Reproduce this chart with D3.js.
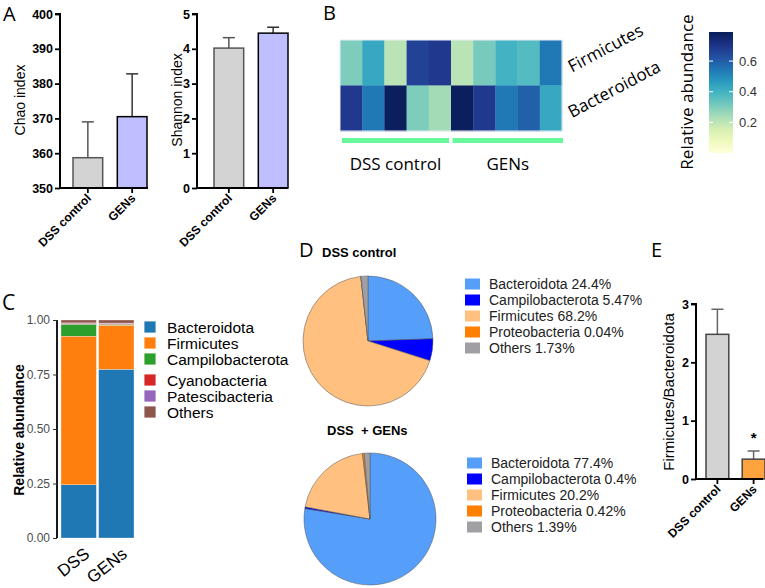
<!DOCTYPE html>
<html><head><meta charset="utf-8">
<script src="https://cdn.jsdelivr.net/npm/d3@7"></script>
<style>body{margin:0;background:#fff}svg{display:block}</style>
</head><body>
<svg id="c" width="765" height="588"></svg>
<script>
// ---------- DATA ----------
const groups = ["DSS control", "GENs"];
const chaoMean = [358.7, 370.5];
const chaoSD = [10.3, 12.3];
const shannonMean = [4.02, 4.45];
const shannonSD = [0.30, 0.17];
const chaoTicks = [350, 360, 370, 380, 390, 400];
const shannonTicks = [0, 1, 2, 3, 4, 5];

const heatRows = ["Firmicutes", "Bacteroidota"];
const heatGroupSizes = [5, 5];
const firmicutesRel = [0.30, 0.43, 0.21, 0.66, 0.69, 0.21, 0.31, 0.40, 0.37, 0.54];
const bacteroidotaRel = [0.69, 0.54, 0.78, 0.30, 0.245, 0.78, 0.69, 0.54, 0.59, 0.43];
const heatTicks = [0.2, 0.4, 0.6];

const stackGroups = ["DSS", "GENs"];
const stackPhyla = ["Bacteroidota", "Firmicutes", "Campilobacterota", "Cyanobacteria", "Patescibacteria", "Others"];
const stackDSS = [0.244, 0.682, 0.0547, 0.004, 0.002, 0.0133];
const stackGENs = [0.774, 0.202, 0.004, 0.004, 0.002, 0.014];
const stackTicks = [0, 0.25, 0.5, 0.75, 1.0];

const pieLabels = ["Bacteroidota", "Campilobacterota", "Firmicutes", "Proteobacteria", "Others"];
const pieDSS = [24.4, 5.47, 68.2, 0.04, 1.73];
const pieGENs = [77.4, 0.4, 20.2, 0.42, 1.39];
const pieDSSText = ["24.4%", "5.47%", "68.2%", "0.04%", "1.73%"];
const pieGENsText = ["77.4%", "0.4%", "20.2%", "0.42%", "1.39%"];

const ratioMean = [2.48, 0.34];
const ratioSD = [0.43, 0.14];
const ratioTicks = [0, 1, 2, 3];

// ---------- DRAW ----------
const svg = d3.select("#c");
const ARIAL = "Liberation Sans, Arial, sans-serif";
const OPEN = "Open Sans, sans-serif";

function letter(t, x, y, size) {
  svg.append("text").attr("x", x).attr("y", y).text(t)
    .attr("font-family", OPEN).attr("font-size", size).attr("fill", "#000");
}
letter("A", 3, 21, 20); letter("B", 323, 20, 20); letter("C", 2, 310, 21);
letter("D", 299, 257, 20); letter("E", 651, 257, 20);

// Panel A / E style bar chart
function barPanel(opt) {
  const g = svg.append("g");
  const y = d3.scaleLinear().domain(opt.domain).range([opt.y0, opt.y1]);
  const x = d3.scaleBand().domain(groups).range([opt.xa + opt.pad, opt.xa + opt.pad + opt.bandW * 2]).paddingInner(opt.pin).paddingOuter(0);
  groups.forEach((gname, i) => {
    const bx = x(gname), bw = x.bandwidth();
    const top = y(opt.mean[i]), hi = y(opt.mean[i] + opt.sd[i]);
    const cx = bx + bw / 2;
    g.append("line").attr("x1", cx).attr("x2", cx).attr("y1", top).attr("y2", hi)
      .attr("stroke", opt.errCol[i]).attr("stroke-width", 1.5);
    g.append("line").attr("x1", cx - opt.cap).attr("x2", cx + opt.cap).attr("y1", hi).attr("y2", hi)
      .attr("stroke", opt.errCol[i]).attr("stroke-width", 1.5);
    g.append("rect").attr("x", bx).attr("y", top).attr("width", bw).attr("height", opt.y0 - top)
      .attr("fill", opt.fill[i]).attr("stroke", opt.stroke[i]).attr("stroke-width", 1.5);
  });
  const ay = g.append("g").attr("transform", `translate(${opt.xa},0)`)
    .call(d3.axisLeft(y).tickValues(opt.ticks).tickSize(5).tickPadding(2).tickFormat(d3.format("d")));
  ay.select(".domain").attr("stroke-width", 2).attr("d", `M-5,${opt.y1}H0V${opt.y0}`);
  ay.selectAll(".tick line").attr("stroke-width", 1.8);
  ay.selectAll("text").attr("font-family", ARIAL).attr("font-weight", "bold").attr("font-size", 12.5).attr("fill", "#000");
  g.append("line").attr("x1", opt.xa - 1).attr("x2", opt.xEnd).attr("y1", opt.y0).attr("y2", opt.y0)
    .attr("stroke", "#000").attr("stroke-width", 2);
  groups.forEach((gname) => {
    const cx = x(gname) + x.bandwidth() / 2;
    g.append("line").attr("x1", cx).attr("x2", cx).attr("y1", opt.y0).attr("y2", opt.y0 + 5)
      .attr("stroke", "#000").attr("stroke-width", 1.8);
    g.append("text").attr("transform", `translate(${cx + 4},${opt.y0 + 11}) rotate(-45)`)
      .attr("text-anchor", "end").attr("font-family", ARIAL).attr("font-weight", "bold")
      .attr("font-size", 12).attr("fill", "#000").text(gname);
  });
  g.append("text").attr("transform", `translate(${opt.tx},${opt.ty}) rotate(-90)`)
    .attr("text-anchor", "middle").attr("font-family", ARIAL).attr("font-size", opt.tsize)
    .attr("fill", "#000").text(opt.title);
  return {g, x, y};
}

barPanel({domain: [350, 400], ticks: chaoTicks, y0: 188, y1: 14, xa: 60, pad: 13, bandW: 37, pin: 0.33,
  mean: chaoMean, sd: chaoSD, fill: ["#d3d3d3", "#bfbfff"], stroke: ["#555", "#000"], errCol: ["#555", "#333"],
  cap: 6, xEnd: 148, tx: 25, ty: 100, title: "Chao index", tsize: 14});
barPanel({domain: [0, 5], ticks: shannonTicks, y0: 188, y1: 14, xa: 197, pad: 17, bandW: 37, pin: 0.33,
  mean: shannonMean, sd: shannonSD, fill: ["#d3d3d3", "#bfbfff"], stroke: ["#555", "#000"], errCol: ["#555", "#333"],
  cap: 6, xEnd: 288, tx: 182, ty: 100, title: "Shannon index", tsize: 14});

const eP = barPanel({domain: [0, 3], ticks: ratioTicks, y0: 479, y1: 304, xa: 696, pad: 10, bandW: 29.5, pin: 0.37,
  mean: ratioMean, sd: ratioSD, fill: ["#d3d3d3", "#ffa33f"], stroke: ["#444", "#444"], errCol: ["#666", "#666"],
  cap: 6, xEnd: 763, tx: 674, ty: 392, title: "Firmicutes/Bacteroidota", tsize: 15});
eP.g.append("text").attr("x", eP.x("GENs") + eP.x.bandwidth() / 2).attr("y", 443).attr("text-anchor", "middle")
  .attr("font-family", ARIAL).attr("font-weight", "bold").attr("font-size", 15).text("*");

// ---------- Panel B heatmap ----------
const heatMax = 0.79;
const color = d3.scaleSequential(d3.interpolateYlGnBu).domain([0, heatMax]);
const nCols = firmicutesRel.length;
const hx = d3.scaleBand().domain(d3.range(nCols)).range([340, 562]);
const hy = d3.scaleBand().domain(heatRows).range([40, 131]);
const heatData = [firmicutesRel, bacteroidotaRel];
const hg = svg.append("g");
heatRows.forEach((r, ri) => {
  heatData[ri].forEach((v, ci) => {
    hg.append("rect").attr("x", hx(ci)).attr("y", hy(r)).attr("width", hx.bandwidth() + 0.3)
      .attr("height", hy.bandwidth() + 0.3).attr("fill", color(v));
  });
});
hg.append("rect").attr("x", 340).attr("y", 40).attr("width", 222).attr("height", 91)
  .attr("fill", "none").attr("stroke", "#e8eef5").attr("stroke-width", 1);
heatRows.forEach((r, ri) => {
  hg.append("text").attr("transform", `translate(572,${hy(r) + hy.bandwidth() / 2 + 10}) rotate(-28)`)
    .attr("font-family", OPEN).attr("font-size", 17).attr("fill", "#000").text(r);
});
let start = 0;
heatGroupSizes.forEach((n, gi) => {
  const x0 = hx(start) + (gi === 0 ? 2 : 1.5), x1 = hx(start + n - 1) + hx.bandwidth() - (gi === 0 ? 2 : -1);
  hg.append("rect").attr("x", x0).attr("y", 138).attr("width", x1 - x0).attr("height", 5).attr("fill", "#69f79b");
  hg.append("text").attr("x", (x0 + x1) / 2).attr("y", 170).attr("text-anchor", "middle")
    .attr("font-family", OPEN).attr("font-size", 17).attr("fill", "#000").text(groups[gi]);
  start += n;
});
const cb = d3.scaleLinear().domain([0, heatMax]).range([153, 32]);
const defs = svg.append("defs");
const grad = defs.append("linearGradient").attr("id", "cbg").attr("x1", 0).attr("x2", 0).attr("y1", 1).attr("y2", 0);
d3.range(0, 1.0001, 0.1).forEach(t => grad.append("stop").attr("offset", t).attr("stop-color", color(t * heatMax)));
hg.append("rect").attr("x", 709).attr("y", 32).attr("width", 24).attr("height", 121).attr("fill", "url(#cbg)");
heatTicks.forEach(t => {
  hg.append("line").attr("x1", 709).attr("x2", 713).attr("y1", cb(t)).attr("y2", cb(t)).attr("stroke", "#fff").attr("stroke-width", 1);
  hg.append("line").attr("x1", 729).attr("x2", 733).attr("y1", cb(t)).attr("y2", cb(t)).attr("stroke", "#fff").attr("stroke-width", 1);
  hg.append("text").attr("x", 739).attr("y", cb(t) + 4.5).attr("font-family", ARIAL).attr("font-size", 13)
    .attr("fill", "#333").text(t.toFixed(1));
});
hg.append("text").attr("transform", "translate(693,92) rotate(-90)").attr("text-anchor", "middle")
  .attr("font-family", OPEN).attr("font-size", 17).attr("fill", "#000").text("Relative abundance");

// ---------- Panel C stacked ----------
const stackColors = ["#1f77b4", "#ff7f0e", "#2ca02c", "#d62728", "#9467bd", "#8c564b"];
const cy = d3.scaleLinear().domain([0, 1]).range([538, 320]);
const cx = d3.scaleBand().domain(stackGroups).range([61, 134]).paddingInner(0.06);
const cg = svg.append("g");
[stackDSS, stackGENs].forEach((vals, gi) => {
  let acc = 0;
  vals.forEach((v, pi) => {
    cg.append("rect").attr("x", cx(stackGroups[gi])).attr("width", cx.bandwidth())
      .attr("y", cy(acc + v)).attr("height", cy(acc) - cy(acc + v))
      .attr("fill", stackColors[pi]).attr("stroke", "#fff").attr("stroke-width", 0.3);
    acc += v;
  });
});
const cay = cg.append("g").attr("transform", "translate(57,0)")
  .call(d3.axisLeft(cy).tickValues(stackTicks).tickSize(4).tickPadding(3).tickFormat(d3.format(".2f")));
cay.select(".domain").attr("stroke-width", 1.8).attr("d", "M0,320V538");
cay.selectAll(".tick line").attr("stroke", "#333");
cay.selectAll("text").attr("font-family", ARIAL).attr("font-size", 12).attr("fill", "#4d4d4d");
stackGroups.forEach(gname => {
  cg.append("text").attr("transform", `translate(${cx(gname) + cx.bandwidth() / 2 + 12},556) rotate(-38)`)
    .attr("text-anchor", "end").attr("font-family", ARIAL).attr("font-size", 17).attr("fill", "#000").text(gname);
});
cg.append("text").attr("transform", "translate(24,430) rotate(-90)").attr("text-anchor", "middle")
  .attr("font-family", ARIAL).attr("font-weight", "bold").attr("font-size", 14).text("Relative abundance");
const legY = [327, 343, 359, 380, 396, 412];
stackPhyla.forEach((p, i) => {
  cg.append("rect").attr("x", 144).attr("y", legY[i] - 6).attr("width", 12).attr("height", 12)
    .attr("fill", stackColors[i]).attr("stroke", "#fff").attr("stroke-width", 0.8);
  cg.append("text").attr("x", 167).attr("y", legY[i] + 5.5).attr("font-family", ARIAL).attr("font-size", 15.5)
    .attr("fill", "#000").text(p);
});

// ---------- Panel D pies ----------
const pieColors = ["#559ffa", "#0000ff", "#ffc080", "#ff7f00", "#a0a0a4"];
function drawPie(vals, txt, cxp, cyp, r, title, tx, ty, lx, ly0) {
  const g = svg.append("g");
  g.append("text").attr("x", tx).attr("y", ty).attr("font-family", ARIAL).attr("font-weight", "bold")
    .attr("font-size", 13).text(title);
  const arcs = d3.pie().sort(null).value(d => d)(vals);
  const arc = d3.arc().innerRadius(0).outerRadius(r);
  g.append("g").attr("transform", `translate(${cxp},${cyp})`).selectAll("path").data(arcs).join("path")
    .attr("d", arc).attr("fill", (d, i) => pieColors[i]).attr("stroke", "#555").attr("stroke-width", 0.5);
  pieLabels.forEach((p, i) => {
    const y = ly0 + i * 16;
    g.append("rect").attr("x", lx).attr("y", y - 5.5).attr("width", 15).attr("height", 11).attr("fill", pieColors[i]);
    g.append("text").attr("x", lx + 24).attr("y", y + 5).attr("font-family", ARIAL).attr("font-size", 14)
      .attr("fill", "#222").text(p + " " + txt[i]);
  });
}
drawPie(pieDSS, pieDSSText, 368, 341, 65, "DSS control", 322, 257, 465, 284);
drawPie(pieGENs, pieGENsText, 370, 519, 66, "DSS\u00a0 + GENs", 327, 435, 467, 463);
</script>
</body></html>
